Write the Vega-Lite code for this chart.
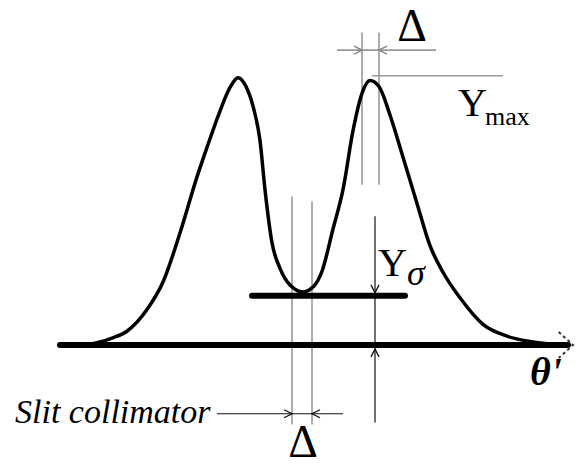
{
  "$schema": "https://vega.github.io/schema/vega-lite/v6.json",
  "width": 577,
  "height": 466,
  "autosize": {"type": "fit", "contains": "padding"},
  "padding": 0,
  "background": "white",
  "config": {"view": {"stroke": null}},
  "datasets": {
    "curve": [
      {"x": 88, "y": 0.5}, {"x": 100, "y": 3}, {"x": 112, "y": 7}, {"x": 127, "y": 14},
      {"x": 147, "y": 36}, {"x": 163, "y": 64}, {"x": 180, "y": 114}, {"x": 197, "y": 171},
      {"x": 207, "y": 201}, {"x": 220, "y": 238}, {"x": 230, "y": 262}, {"x": 238, "y": 272},
      {"x": 246, "y": 263}, {"x": 253, "y": 243}, {"x": 260, "y": 208}, {"x": 265, "y": 158},
      {"x": 272, "y": 104}, {"x": 280, "y": 78}, {"x": 290, "y": 61}, {"x": 303, "y": 54},
      {"x": 314, "y": 60}, {"x": 322, "y": 75}, {"x": 333, "y": 118}, {"x": 343, "y": 158},
      {"x": 353, "y": 218}, {"x": 362, "y": 256}, {"x": 370, "y": 269}, {"x": 379, "y": 263},
      {"x": 390, "y": 234}, {"x": 403, "y": 191}, {"x": 417, "y": 144}, {"x": 430, "y": 101},
      {"x": 443, "y": 74}, {"x": 460, "y": 48}, {"x": 483, "y": 21}, {"x": 507, "y": 9},
      {"x": 527, "y": 4}, {"x": 550, "y": 1}
    ],
    "thick": [
      {"x": 60, "y": 0, "x2": 568, "y2": 0},
      {"x": 252, "y": 50, "x2": 405, "y2": 50}
    ],
    "gray": [
      {"x": 292, "y": 151, "x2": 292, "y2": -81},
      {"x": 312, "y": 146, "x2": 312, "y2": -81},
      {"x": 362, "y": 318, "x2": 362, "y2": 163},
      {"x": 379, "y": 318, "x2": 379, "y2": 163},
      {"x": 372, "y": 274, "x2": 503, "y2": 274},
      {"x": 337, "y": 300, "x2": 436, "y2": 300}
    ],
    "black": [
      {"x": 375, "y": 131, "x2": 375, "y2": -79},
      {"x": 217, "y": -70, "x2": 343, "y2": -70}
    ],
    "arrows": [
      {"x": 362, "y": 300, "g": "gr"},
      {"x": 379, "y": 300, "g": "gl"},
      {"x": 292, "y": -70, "g": "br"},
      {"x": 312, "y": -70, "g": "bl"},
      {"x": 375, "y": 53, "g": "bd"},
      {"x": 375, "y": -4, "g": "bu"},
      {"x": 573, "y": 0, "g": "end"}
    ],
    "labels": [
      {"x": 412, "y": 309, "t": "Δ", "g": "delta"},
      {"x": 303, "y": -114, "t": "Δ", "g": "delta"},
      {"x": 458, "y": 233, "t": "Y", "g": "big"},
      {"x": 378, "y": 70, "t": "Y", "g": "big"},
      {"x": 485, "y": 224, "t": "max", "g": "sub"},
      {"x": 407, "y": 61, "t": "σ", "g": "sigma"},
      {"x": 530, "y": -41, "t": "θ'", "g": "theta"},
      {"x": 15, "y": -79, "t": "Slit collimator", "g": "slit"}
    ]
  },
  "encoding": {
    "x": {"field": "x", "type": "quantitative", "scale": {"domain": [0, 577], "nice": false, "zero": false}, "axis": null},
    "y": {"field": "y", "type": "quantitative", "scale": {"domain": [-115, 351], "nice": false, "zero": false}, "axis": null}
  },
  "layer": [
    {
      "data": {"name": "gray"},
      "mark": {"type": "rule", "color": "#999999", "strokeWidth": 1.6},
      "encoding": {"x2": {"field": "x2"}, "y2": {"field": "y2"}}
    },
    {
      "data": {"name": "black"},
      "mark": {"type": "rule", "color": "#111111", "strokeWidth": 1.2},
      "encoding": {"x2": {"field": "x2"}, "y2": {"field": "y2"}}
    },
    {
      "data": {"name": "thick"},
      "mark": {"type": "rule", "color": "black", "strokeWidth": 6, "strokeCap": "round"},
      "encoding": {"x2": {"field": "x2"}, "y2": {"field": "y2"}}
    },
    {
      "data": {"name": "curve"},
      "mark": {"type": "line", "color": "black", "strokeWidth": 3.5, "interpolate": "monotone"},
      "encoding": {}
    },
    {
      "data": {"name": "arrows"},
      "transform": [{"filter": "datum.g == 'gr'"}],
      "mark": {"type": "point", "shape": "M-2,-1L0,0L-2,1", "size": 64, "filled": false, "color": "#888888", "strokeWidth": 1.5, "opacity": 1}
    },
    {
      "data": {"name": "arrows"},
      "transform": [{"filter": "datum.g == 'gl'"}],
      "mark": {"type": "point", "shape": "M2,-1L0,0L2,1", "size": 64, "filled": false, "color": "#888888", "strokeWidth": 1.5, "opacity": 1}
    },
    {
      "data": {"name": "arrows"},
      "transform": [{"filter": "datum.g == 'br'"}],
      "mark": {"type": "point", "shape": "M-2,-1L0,0L-2,1", "size": 64, "filled": false, "color": "#111111", "strokeWidth": 1.3, "opacity": 1}
    },
    {
      "data": {"name": "arrows"},
      "transform": [{"filter": "datum.g == 'bl'"}],
      "mark": {"type": "point", "shape": "M2,-1L0,0L2,1", "size": 64, "filled": false, "color": "#111111", "strokeWidth": 1.3, "opacity": 1}
    },
    {
      "data": {"name": "arrows"},
      "transform": [{"filter": "datum.g == 'bd'"}],
      "mark": {"type": "point", "shape": "M-1,-2L0,0L1,-2", "size": 64, "filled": false, "color": "#111111", "strokeWidth": 1.3, "opacity": 1}
    },
    {
      "data": {"name": "arrows"},
      "transform": [{"filter": "datum.g == 'bu'"}],
      "mark": {"type": "point", "shape": "M-1,2L0,0L1,2", "size": 64, "filled": false, "color": "#111111", "strokeWidth": 1.3, "opacity": 1}
    },
    {
      "data": {"name": "arrows"},
      "transform": [{"filter": "datum.g == 'end'"}],
      "mark": {"type": "point", "shape": "M-1.1,-1L0,0L-1.1,1", "size": 676, "filled": false, "color": "#333333", "strokeWidth": 2, "strokeDash": [3, 3], "opacity": 1}
    },
    {
      "data": {"name": "labels"},
      "transform": [{"filter": "datum.g == 'delta'"}],
      "mark": {"type": "text", "font": "Liberation Serif", "fontSize": 46, "align": "center", "baseline": "alphabetic", "color": "black"},
      "encoding": {"text": {"field": "t"}}
    },
    {
      "data": {"name": "labels"},
      "transform": [{"filter": "datum.g == 'big'"}],
      "mark": {"type": "text", "font": "Liberation Serif", "fontSize": 40, "align": "left", "baseline": "alphabetic", "color": "black"},
      "encoding": {"text": {"field": "t"}}
    },
    {
      "data": {"name": "labels"},
      "transform": [{"filter": "datum.g == 'sub'"}],
      "mark": {"type": "text", "font": "Liberation Serif", "fontSize": 26, "align": "left", "baseline": "alphabetic", "color": "black"},
      "encoding": {"text": {"field": "t"}}
    },
    {
      "data": {"name": "labels"},
      "transform": [{"filter": "datum.g == 'sigma'"}],
      "mark": {"type": "text", "font": "Liberation Serif", "fontSize": 36, "fontStyle": "italic", "align": "left", "baseline": "alphabetic", "color": "black"},
      "encoding": {"text": {"field": "t"}}
    },
    {
      "data": {"name": "labels"},
      "transform": [{"filter": "datum.g == 'theta'"}],
      "mark": {"type": "text", "font": "Liberation Serif", "fontSize": 40, "fontStyle": "italic", "fontWeight": "bold", "align": "left", "baseline": "alphabetic", "color": "black"},
      "encoding": {"text": {"field": "t"}}
    },
    {
      "data": {"name": "labels"},
      "transform": [{"filter": "datum.g == 'slit'"}],
      "mark": {"type": "text", "font": "Liberation Serif", "fontSize": 34, "fontStyle": "italic", "align": "left", "baseline": "alphabetic", "color": "black"},
      "encoding": {"text": {"field": "t"}}
    }
  ]
}
